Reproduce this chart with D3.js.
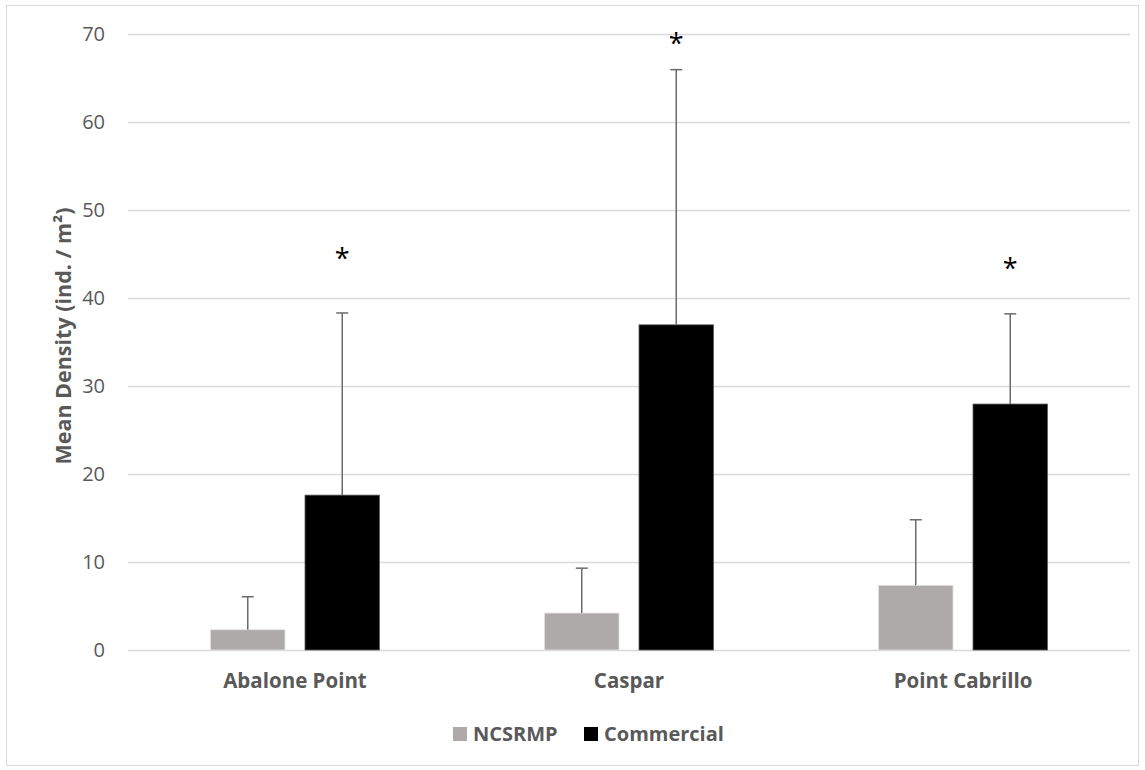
<!DOCTYPE html>
<html><head><meta charset="utf-8">
<script src="https://cdn.jsdelivr.net/npm/d3@7"></script>
<style>body{margin:0;background:#fff}svg{display:block}text{font-family:"Open Sans",sans-serif}</style>
</head><body><svg id="c" width="1145" height="770"></svg>
<script>
const categories = ["Abalone Point", "Caspar", "Point Cabrillo"];
const seriesNames = ["NCSRMP", "Commercial"];
const ncsrmpMean = [2.3, 4.2, 7.35];
const ncsrmpErr = [3.75, 5.1, 7.45];
const commercialMean = [17.6, 36.95, 27.95];
const commercialErr = [20.7, 29.0, 10.25];
const asteriskAt = [45.1, 69.5, 44.0];
const yTicks = [0, 10, 20, 30, 40, 50, 60, 70];
const colors = ["#AEAAAA", "#000000"];

const svg = d3.select("#c");
svg.append("rect").attr("x", 6.5).attr("y", 5.5).attr("width", 1132).attr("height", 760)
  .attr("fill", "#fff").attr("stroke", "#d9d9d9").attr("stroke-width", 1);

const L = 128, R = 1130, T = 34, B = 650;
const y = d3.scaleLinear().domain([0, 70]).range([B, T]);
const x0 = d3.scaleBand().domain(categories).range([L, R]).paddingInner(0).paddingOuter(0);
const bw = 74.5, gap = 20;

const yAxis = d3.axisLeft(y).tickValues(yTicks).tickSize(-(R - L)).tickPadding(23).tickFormat(d3.format("d"));
const gy = svg.append("g").attr("transform", `translate(${L},0)`).call(yAxis);
gy.select(".domain").remove();
gy.selectAll(".tick line").attr("stroke", "#d9d9d9").attr("stroke-width", 1.3);
gy.selectAll(".tick text").attr("fill", "#595959").attr("font-size", 20).attr("font-family", "'Open Sans', sans-serif");

const data = categories.map((c, i) => ({c, vals: [
  {s: 0, m: ncsrmpMean[i], e: ncsrmpErr[i]},
  {s: 1, m: commercialMean[i], e: commercialErr[i]}], ast: asteriskAt[i]}));

const cx = c => x0(c) + x0.bandwidth() / 2;
const bx = (c, s) => s === 0 ? cx(c) - gap / 2 - bw : cx(c) + gap / 2;

const g = svg.append("g");
data.forEach(d => {
  d.vals.forEach(v => {
    const xl = bx(d.c, v.s);
    g.append("rect").attr("x", xl).attr("y", y(v.m)).attr("width", bw).attr("height", y(0) - y(v.m))
      .attr("fill", colors[v.s]).attr("stroke", v.s === 0 ? "#e4e2e2" : "#5a5a5a").attr("stroke-width", 0.8);
    const mx = xl + bw / 2;
    g.append("line").attr("x1", mx).attr("x2", mx).attr("y1", y(v.m)).attr("y2", y(v.m + v.e))
      .attr("stroke", "#6b6b6b").attr("stroke-width", 1.5);
    g.append("line").attr("x1", mx - 6).attr("x2", mx + 6).attr("y1", y(v.m + v.e)).attr("y2", y(v.m + v.e))
      .attr("stroke", "#6b6b6b").attr("stroke-width", 1.5);
  });
  if (d.ast != null) {
    g.append("text").attr("x", bx(d.c, 1) + bw / 2).attr("y", y(d.ast) + 15)
      .attr("text-anchor", "middle").attr("font-size", 27).attr("fill", "#000").text("*");
  }
});

// x labels
svg.append("g").selectAll("text").data(categories).join("text")
  .attr("x", d => cx(d)).attr("y", 688).attr("text-anchor", "middle")
  .attr("font-size", 20.5).attr("font-weight", "bold").attr("fill", "#595959").text(d => d);

// y title
svg.append("text").attr("transform", "translate(71,336) rotate(-90)").attr("text-anchor", "middle")
  .attr("font-size", 21.5).attr("font-weight", "bold").attr("fill", "#595959").text("Mean Density (ind. / m²)");

// legend
const legX = [453, 584];
const lg = svg.append("g");
seriesNames.forEach((s, i) => {
  lg.append("rect").attr("x", legX[i]).attr("y", 727).attr("width", 14).attr("height", 14).attr("fill", colors[i]);
  lg.append("text").attr("x", legX[i] + 20).attr("y", 741).attr("font-size", 20).attr("font-weight", "bold")
    .attr("fill", "#595959").text(s);
});
</script></body></html>
